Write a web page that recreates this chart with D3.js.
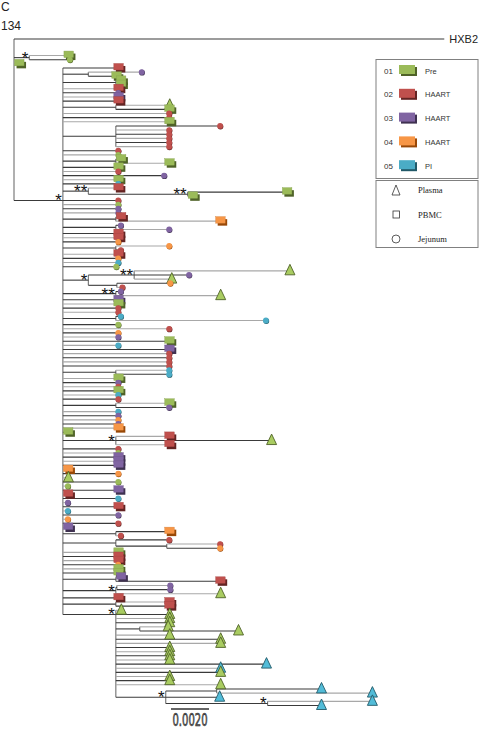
<!DOCTYPE html>
<html><head><meta charset="utf-8">
<script src="https://cdn.jsdelivr.net/npm/d3@7"></script>
<style>body{margin:0;background:#fff}svg{display:block}</style>
</head><body>
<svg id="chart" width="480" height="730"></svg>
<script>
// ---------------- data ----------------
const panelLabel = "C";
const subjectLabel = "134";
const referenceName = "HXB2";
const nucleotideStep = 0.00268;       // substitutions/site of one nucleotide change
const scaleBarValue = 0.0020;
const scaleBarLabel = "0.0020";
const groupCodes = ["01", "02", "03", "04", "05"];
const groupNames = ["Pre", "HAART", "HAART", "HAART", "PI"];
const groupColors = ["#9bbb59", "#c0504d", "#8064a2", "#f79646", "#4bacc6"];
const groupShadows = ["#4f6228", "#632423", "#3f3151", "#984807", "#215968"];
const tissueCodes = ["t", "s", "c"];
const tissueNames = ["Plasma", "PBMC", "Jejunum"];
const supportMarks = {A: "*", MAIN: "*", U1: "**", U2: "**", S1: "*", S2: "**", K: "**", M: "*", O: "*", LATE: "*", B: "*", E: "*"};
const anchorChild = {MAIN: 21, LATE: 1};
// leaf label = group number + tissue code; branch lengths in nucleotide changes
const lateClade = "(1t:0.05,1t:1.0,1t:1.0,1t:1.0,(1t:0.5,1t:1.88):0.47,1t:1.0,1t:2.0,1t:2.0,1t:1.0,1t:1.0,1t:1.0,1t:1.0,5t:2.9,5t:2.0,1t:2.0,1t:1.0,1t:1.0,1t:2.0,((5t:2.0,5t:3.0):1.0,5t:1.0,(5t:2.0,5t:1.0)E:2.0)B:0.98)LATE:1.04";
const mainClade = "(2s:1.04,(3c:1.0,1s:0.5):0.5,(1s:0.05,1s:0.05):1.04,2s:1.04,3c:1.04,3s:1.04,2s:1.04,(1t:1.0,1s:1.0):1.04,2c:2.04,2c:2.04,1s:2.04,(2c:2.0,2c:1.0,2c:1.0,2c:1.0,2c:1.0,2c:1.0):1.04,2c:1.04,1c:1.04,(1s:0.05,1s:1.0):1.04,1s:1.04,2c:1.04,3c:1.94,1s:1.04,5c:1.04,(2s:0.54,(1s:1.9,1s:0.05)U2:1.95)U1:0.5,2c:1.04,1c:1.04,3c:1.04,3c:1.04,(2s:0.05,4s:2.0):1.04,(3c:0.05,3c:1.0):1.04,2s:1.04,2s:1.04,4c:1.04,(4c:1.0,2c:0.05):1.04,2s:1.04,4c:1.04,5c:1.04,1c:1.0,((1t:3.0,3c:1.03,1t:0.68)S2:0.9,(4c:1.0,2c:0.06):0.56)S1:0.5,(3c:0.05,1t:2.0)K:1.04,3s:1.04,1s:1.04,2c:1.04,2c:1.04,(5c:0.05,5c:2.9):1.04,1c:1.04,2c:2.04,4c:1.04,3c:1.04,1s:2.04,5c:1.04,3s:2.04,2c:2.04,2c:2.04,2c:2.04,2c:2.04,(5c:1.0,5c:1.0):1.04,1s:1.04,3c:1.04,2c:1.04,1s:1.04,5c:1.04,2c:1.04,(1s:1.0,3c:1.0):1.04,5c:1.04,3c:1.04,4c:1.04,3c:1.04,4s:1.04,1s:0.05,(2s:1.0,1t:3.0,2s:1.0)M:1.04,2c:1.04,1c:1.04,3s:1.04,3s:1.04,3s:1.04,4s:0.05,4c:1.04,1t:0.05,1c:1.04,1c:0.05,3s:1.04,2s:0.05,5c:1.04,3c:0.05,2s:1.04,5c:0.05,3c:1.04,4c:0.05,2c:1.04,3s:0.05,(4s:1.0,2c:0.05):1.04,(2c:1.0,(2c:1.0,4c:1.0):1.0):1.04,1s:1.04,2s:1.04,2s:1.04,4c:1.04,1s:1.04,1s:1.04,(3s:0.05,2s:2.0):1.04,((3c:1.0,3c:1.0):0.02,1t:2.0)O:1.04,2s:1.04,(2s:1.0,2s:1.0):1.04," + lateClade + ")MAIN:0.96";
const treeNewick = "(HXB2:8.45,(1s:0.72,1c:0.75)A:0.3,1s:0.05," + mainClade + ");";

// ---------------- layout constants ----------------
const outgroupGap = 3;

function parseNewick(s) {
  let i = 0;
  function node() {
    const n = {name: "", len: 0, children: null};
    if (s[i] === "(") {
      i++; n.children = [];
      n.children.push(node());
      while (s[i] === ",") { i++; n.children.push(node()); }
      i++; // ')'
    }
    let name = "";
    while (i < s.length && !",():;".includes(s[i])) name += s[i++];
    n.name = name.trim();
    if (s[i] === ":") {
      i++; let num = "";
      while (i < s.length && !",();".includes(s[i])) num += s[i++];
      n.len = +num;
    }
    return n;
  }
  return node();
}

const svg = d3.select("#chart");
const root = d3.hierarchy(parseNewick(treeNewick), d => d.children);
root.eachBefore(d => { d.dist = (d.parent ? d.parent.dist : 0) + d.data.len * nucleotideStep; });
const leaves = root.leaves();
leaves.forEach((d, i) => { d.slot = i === 0 ? 0 : i + outgroupGap; d.leafIndex = i; });

const x = d3.scaleLinear().domain([0, scaleBarValue]).range([14, 52]);
const y = d3.scaleLinear().domain([0, leaves.length - 1 + outgroupGap]).range([39, 705.5]);

root.eachAfter(d => {
  if (d.children) {
    const k = anchorChild[d.data.name];
    d.py = k != null ? d.children[k].py : (d.children[0].py + d.children[d.children.length - 1].py) / 2;
  } else d.py = y(d.slot);
  d.px = x(d.dist);
});

const gLines = svg.append("g").attr("fill", "none").attr("stroke-width", 1.1);
gLines.selectAll("path.v").data(root.descendants().filter(d => d.children)).join("path")
  .attr("class", "v")
  .attr("stroke", "#6f6f6f")
  .attr("d", d => `M${d.px},${d.children[0].py}V${d.children[d.children.length - 1].py}`);
gLines.selectAll("path.h").data(root.descendants().filter(d => d.parent)).join("path")
  .attr("class", "h")
  .attr("stroke", d => d.children ? "#3a3a3a" : (d.leafIndex % 2 ? "#a8a8a8" : "#3a3a3a"))
  .attr("d", d => `M${d.parent.px},${d.py}H${d.px}`);

// tip markers
const tips = leaves.filter(d => d.data.name !== referenceName).map(d => ({
  x: d.px, y: d.py, g: +d.data.name[0] - 1, t: d.data.name[1]
}));
const gM = svg.append("g");
tips.forEach(p => {
  const c = groupColors[p.g], s = groupShadows[p.g];
  if (p.t === "s") {
    gM.append("rect").attr("x", p.x).attr("y", p.y - 2).attr("width", 9.5).attr("height", 6.5).attr("fill", s);
    gM.append("rect").attr("x", p.x - 2).attr("y", p.y - 4.5).attr("width", 9.5).attr("height", 6.5)
      .attr("fill", c).attr("stroke", d3.color(c).darker(0.4)).attr("stroke-width", 0.4);
  } else if (p.t === "c") {
    gM.append("circle").attr("cx", p.x + 2.8).attr("cy", p.y + 0.6).attr("r", 2.9).attr("fill", s);
    gM.append("circle").attr("cx", p.x + 2.4).attr("cy", p.y).attr("r", 2.9).attr("fill", c);
  } else {
    const cx = p.x + 3;
    gM.append("path").attr("d", `M${cx},${p.y - 6.5}L${cx + 5},${p.y + 4}L${cx - 5},${p.y + 4}Z`)
      .attr("fill", d3.color(c).brighter(0.25)).attr("stroke", s).attr("stroke-width", 0.9);
  }
});

// support stars
svg.append("g").selectAll("text").data(root.descendants().filter(d => d.children && supportMarks[d.data.name])).join("text")
  .attr("x", d => d.px - 1).attr("y", d => d.py + 6)
  .attr("text-anchor", "end").attr("font-family", "Liberation Sans, Arial, sans-serif").attr("font-size", 17)
  .attr("fill", "#111").text(d => supportMarks[d.data.name]);

// reference label
const ref = leaves.find(d => d.data.name === referenceName);
svg.append("text").attr("x", ref.px + 5).attr("y", ref.py + 4).attr("font-family", "Liberation Sans, Arial, sans-serif")
  .attr("font-size", 11).attr("fill", "#222").text(referenceName);

// panel labels
svg.append("text").attr("x", 1).attr("y", 10.5).attr("font-family", "Liberation Sans, Arial, sans-serif").attr("font-size", 12).attr("fill", "#222").text(panelLabel);
svg.append("text").attr("x", 1).attr("y", 29.5).attr("font-family", "Liberation Sans, Arial, sans-serif").attr("font-size", 12).attr("fill", "#222").text(subjectLabel);

// scale bar
const barX = 171, barY = 709, barW = x(scaleBarValue) - x(0);
svg.append("path").attr("d", `M${barX},${barY}h${barW}`).attr("stroke", "#333").attr("stroke-width", 1.5);
svg.append("text").attr("x", barX + barW / 2).attr("y", 725.5).attr("text-anchor", "middle")
  .attr("font-family", "DejaVu Sans Condensed, Liberation Sans Narrow, sans-serif").attr("font-size", 18)
  .attr("textLength", 35).attr("lengthAdjust", "spacingAndGlyphs")
  .attr("fill", "#666").attr("stroke", "#222").attr("stroke-width", 0.6).text(scaleBarLabel);

// legend
const lg = svg.append("g");
lg.append("rect").attr("x", 376).attr("y", 59.5).attr("width", 102).attr("height", 119).attr("fill", "none").attr("stroke", "#808080");
lg.append("rect").attr("x", 376).attr("y", 180.5).attr("width", 102).attr("height", 67).attr("fill", "none").attr("stroke", "#808080");
groupCodes.forEach((code, i) => {
  const cy = 70.5 + i * 23.8;
  lg.append("text").attr("x", 384).attr("y", cy + 3).attr("font-family", "Liberation Sans, Arial, sans-serif").attr("font-size", 8).attr("fill", "#333").text(code);
  lg.append("rect").attr("x", 401).attr("y", cy - 3.5).attr("width", 16).attr("height", 9).attr("fill", groupShadows[i]);
  lg.append("rect").attr("x", 399).attr("y", cy - 5.5).attr("width", 16).attr("height", 9).attr("fill", groupColors[i]);
  lg.append("text").attr("x", 425).attr("y", cy + 3).attr("font-family", "Liberation Sans, Arial, sans-serif").attr("font-size", 7.5).attr("fill", "#333").text(groupNames[i]);
});
tissueCodes.forEach((t, i) => {
  const cy = 190 + i * 24.5, cx = 396;
  if (t === "t") lg.append("path").attr("d", `M${cx},${cy - 5}L${cx + 4},${cy + 5}L${cx - 4},${cy + 5}Z`).attr("fill", "none").attr("stroke", "#333").attr("stroke-width", 0.8);
  else if (t === "s") lg.append("rect").attr("x", cx - 3).attr("y", cy - 3.5).attr("width", 6.5).attr("height", 7).attr("fill", "none").attr("stroke", "#333").attr("stroke-width", 0.8);
  else lg.append("circle").attr("cx", cx).attr("cy", cy).attr("r", 4).attr("fill", "none").attr("stroke", "#333").attr("stroke-width", 0.8);
  lg.append("text").attr("x", 418).attr("y", cy + 3).attr("font-family", "Liberation Serif, Times New Roman, serif").attr("font-size", 8.5).attr("fill", "#222").text(tissueNames[i]);
});
</script>
</body></html>
